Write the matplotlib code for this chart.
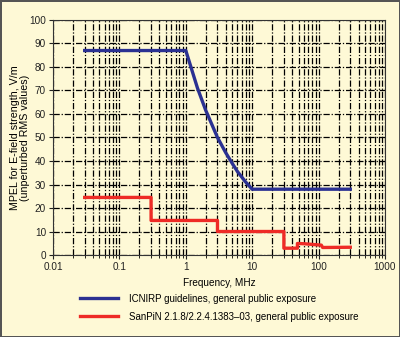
import numpy as np
import matplotlib.pyplot as plt
from matplotlib.ticker import LogLocator, NullFormatter

plt.rcParams['font.family'] = ['Liberation Sans', 'DejaVu Sans']

# ICNIRP guidelines (general public)
icnirp_f = [0.03, 1, 1.5, 2, 3, 4, 5, 6, 8, 10, 300]
icnirp_e = [87, 87, 71, 61.5, 50, 43.5, 39, 35.5, 31, 28, 28]

# SanPiN 2.1.8/2.2.4.1383-03 (general public), stepped limits
sanpin_f = [0.03, 0.3, 0.3, 3, 3, 30, 30, 48, 48, 60, 110, 115, 300]
sanpin_e = [24.5, 24.5, 14.7, 14.7, 10, 10, 2.9, 2.9, 4.9, 4.8, 4.2, 3.2, 3.3]

labels = ['ICNIRP guidelines, general public exposure',
          'SanPiN 2.1.8/2.2.4.1383\u201303, general public exposure']

bg = '#FEF9D6'
fig = plt.figure(figsize=(4, 3.37), dpi=100, facecolor=bg,
                 edgecolor='#555555', linewidth=2)
ax = fig.add_axes([0.1325, 0.2433, 0.83, 0.6974])
ax.set_facecolor(bg)

ax.plot(icnirp_f, icnirp_e, color='#2B3192', linewidth=2.4, label=labels[0], zorder=3)
ax.plot(sanpin_f, sanpin_e, color='#EE2B26', linewidth=2.4, label=labels[1], zorder=3)

ax.set_xscale('log')
ax.set_xlim(0.01, 1000)
ax.set_ylim(0, 100)
ax.set_yticks(np.arange(0, 101, 10))
ax.set_xticks([0.01, 0.1, 1, 10, 100, 1000])
ax.set_xticklabels(['0.01', '0.1', '1', '10', '100', '1000'])
ax.xaxis.set_minor_locator(LogLocator(base=10, subs=np.arange(2, 10), numticks=100))
ax.xaxis.set_minor_formatter(NullFormatter())

dash = (0, (5, 1.5, 1, 1.5))
ax.grid(True, which='major', color='black', linestyle=dash, linewidth=0.9)
ax.grid(True, which='minor', axis='x', color='black', linestyle=dash, linewidth=0.9)

for s in ax.spines.values():
    s.set_color('#333333')
    s.set_linewidth(0.8)
ax.tick_params(labelsize=7.2, length=3, width=0.8, colors='#222222', pad=2)
ax.tick_params(which='minor', length=2, width=0.6)

ax.set_xlabel('Frequency, MHz', fontsize=7.2, labelpad=4)
ax.set_ylabel('MPEL for E-field strength, V/m\n(unperturbed RMS values)',
              fontsize=7.7, linespacing=1.0)
ax.yaxis.set_label_coords(-0.068, 0.5)

leg = ax.legend(loc='upper left', bbox_to_anchor=(0.1775, 0.155),
                bbox_transform=fig.transFigure, frameon=False, fontsize=7,
                handlelength=3.9, handletextpad=1.2, labelspacing=0.85)

fig.savefig('out.png', dpi=100, facecolor=bg, edgecolor='#555555')
